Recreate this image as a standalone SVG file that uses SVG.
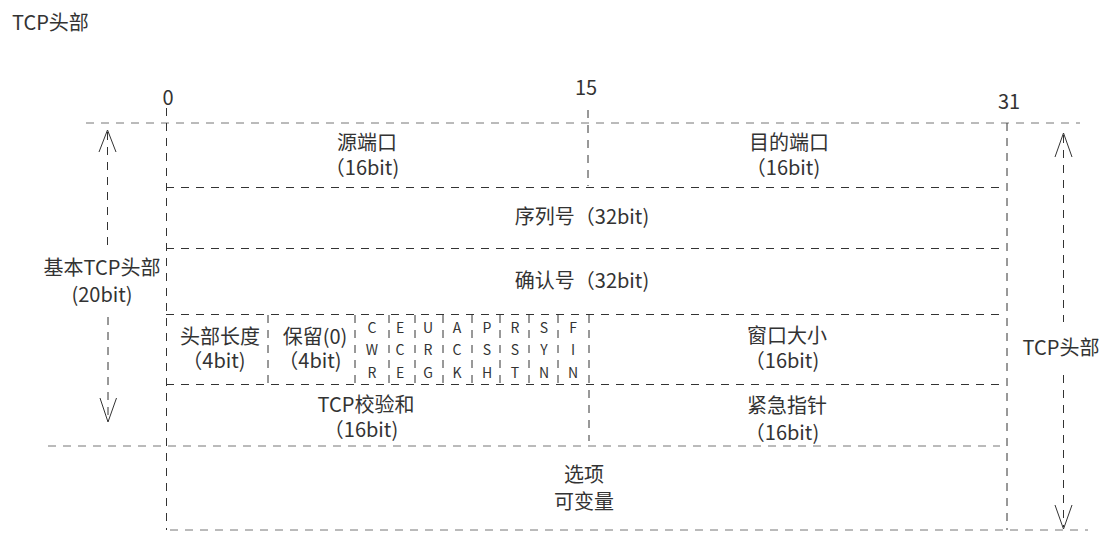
<svg xmlns="http://www.w3.org/2000/svg" width="1108" height="541" viewBox="0 0 1108 541">
<style>
  text { font-family: "Noto Sans CJK SC", "Noto Sans", sans-serif; fill: #333; font-size: 20px; }
  .m { text-anchor: middle; }
  .f { font-size: 14px; text-anchor: middle; }
  .ln { stroke: #333; stroke-width: 1; stroke-dasharray: 8 7; fill: none; }
  .lo { stroke: #777; stroke-width: 1; stroke-dasharray: 8 7; fill: none; }
  .ah { stroke: #333; stroke-width: 1; fill: none; }
</style>
<rect width="1108" height="541" fill="#fff"/>
<text x="12" y="30">TCP头部</text>

<g id="scale">
  <text class="m" x="168" y="105">0</text>
  <text class="m" x="586" y="95">15</text>
  <text class="m" x="1009" y="109">31</text>
</g>

<g id="grid">
  <line class="lo" x1="86" y1="123" x2="1080" y2="123"/>
  <line class="ln" x1="166" y1="187.5" x2="1003" y2="187.5"/>
  <line class="ln" x1="166" y1="248.5" x2="1003" y2="248.5"/>
  <line class="ln" x1="166" y1="314.5" x2="1003" y2="314.5"/>
  <line class="ln" x1="166" y1="384.5" x2="1003" y2="384.5"/>
  <line class="lo" x1="48" y1="446" x2="1000" y2="446"/>
  <line class="lo" x1="170" y1="530" x2="1088" y2="530"/>
  <line class="ln" x1="166.5" y1="108" x2="166.5" y2="530"/>
  <line class="ln" x1="1007" y1="123" x2="1007" y2="530"/>
  <line class="ln" x1="588" y1="110" x2="588" y2="186"/>
  <line class="ln" x1="589" y1="315" x2="589" y2="441"/>
  <line class="ln" x1="268" y1="315" x2="268" y2="384"/>
  <line class="ln" x1="355" y1="315" x2="355" y2="384"/>
  <line class="ln" x1="389" y1="315" x2="389" y2="384"/>
  <line class="ln" x1="415" y1="315" x2="415" y2="384"/>
  <line class="ln" x1="443" y1="315" x2="443" y2="384"/>
  <line class="ln" x1="472" y1="315" x2="472" y2="384"/>
  <line class="ln" x1="500" y1="315" x2="500" y2="384"/>
  <line class="ln" x1="529" y1="315" x2="529" y2="384"/>
  <line class="ln" x1="558" y1="315" x2="558" y2="384"/>
</g>

<g id="src-port">
  <text class="m" x="367" y="150">源端口</text>
  <text class="m" x="362" y="175">（16bit)</text>
</g>
<g id="dst-port">
  <text class="m" x="789" y="150">目的端口</text>
  <text class="m" x="783" y="175">（16bit)</text>
</g>
<g id="seq">
  <text class="m" x="582" y="224">序列号（32bit)</text>
</g>
<g id="ack">
  <text class="m" x="582" y="288">确认号（32bit)</text>
</g>
<g id="hdr-len">
  <text class="m" x="220" y="344">头部长度</text>
  <text class="m" x="214" y="368">（4bit)</text>
</g>
<g id="reserved">
  <text class="m" x="315" y="344">保留(0)</text>
  <text class="m" x="310" y="368">（4bit)</text>
</g>
<g id="flags">
  <text class="f" x="372" y="333">C</text><text class="f" x="372" y="355">W</text><text class="f" x="372" y="378">R</text>
  <text class="f" x="400" y="333">E</text><text class="f" x="400" y="355">C</text><text class="f" x="400" y="378">E</text>
  <text class="f" x="428" y="333">U</text><text class="f" x="428" y="355">R</text><text class="f" x="428" y="378">G</text>
  <text class="f" x="457" y="333">A</text><text class="f" x="457" y="355">C</text><text class="f" x="457" y="378">K</text>
  <text class="f" x="487" y="333">P</text><text class="f" x="487" y="355">S</text><text class="f" x="487" y="378">H</text>
  <text class="f" x="515" y="333">R</text><text class="f" x="515" y="355">S</text><text class="f" x="515" y="378">T</text>
  <text class="f" x="544" y="333">S</text><text class="f" x="544" y="355">Y</text><text class="f" x="544" y="378">N</text>
  <text class="f" x="573" y="333">F</text><text class="f" x="573" y="355">I</text><text class="f" x="573" y="378">N</text>
</g>
<g id="window">
  <text class="m" x="787" y="343">窗口大小</text>
  <text class="m" x="782" y="368">（16bit)</text>
</g>
<g id="checksum">
  <text class="m" x="366" y="412">TCP校验和</text>
  <text class="m" x="361" y="437">（16bit)</text>
</g>
<g id="urgent">
  <text class="m" x="787" y="413">紧急指针</text>
  <text class="m" x="782" y="440">（16bit)</text>
</g>
<g id="options">
  <text class="m" x="584" y="482">选项</text>
  <text class="m" x="584" y="509">可变量</text>
</g>
<g id="basic-label">
  <text class="m" x="102" y="275">基本TCP头部</text>
  <text class="m" x="102" y="302">(20bit)</text>
</g>
<g id="tcp-label">
  <text class="m" x="1061" y="355">TCP头部</text>
</g>

<g id="connectors">
  <line class="ln" x1="107.5" y1="132" x2="107.5" y2="247"/>
  <polyline class="ah" points="99,152 107.5,130 116,152"/>
  <line class="ln" x1="108" y1="317" x2="108" y2="420"/>
  <polyline class="ah" points="100,398 108,422 116.5,398"/>
  <line class="ln" x1="1063.5" y1="135" x2="1063.5" y2="322"/>
  <polyline class="ah" points="1055,157 1063.5,133 1072,157"/>
  <line class="ln" x1="1063.5" y1="375" x2="1063.5" y2="527"/>
  <polyline class="ah" points="1055,505 1063.5,529 1072,505"/>
</g>
</svg>
